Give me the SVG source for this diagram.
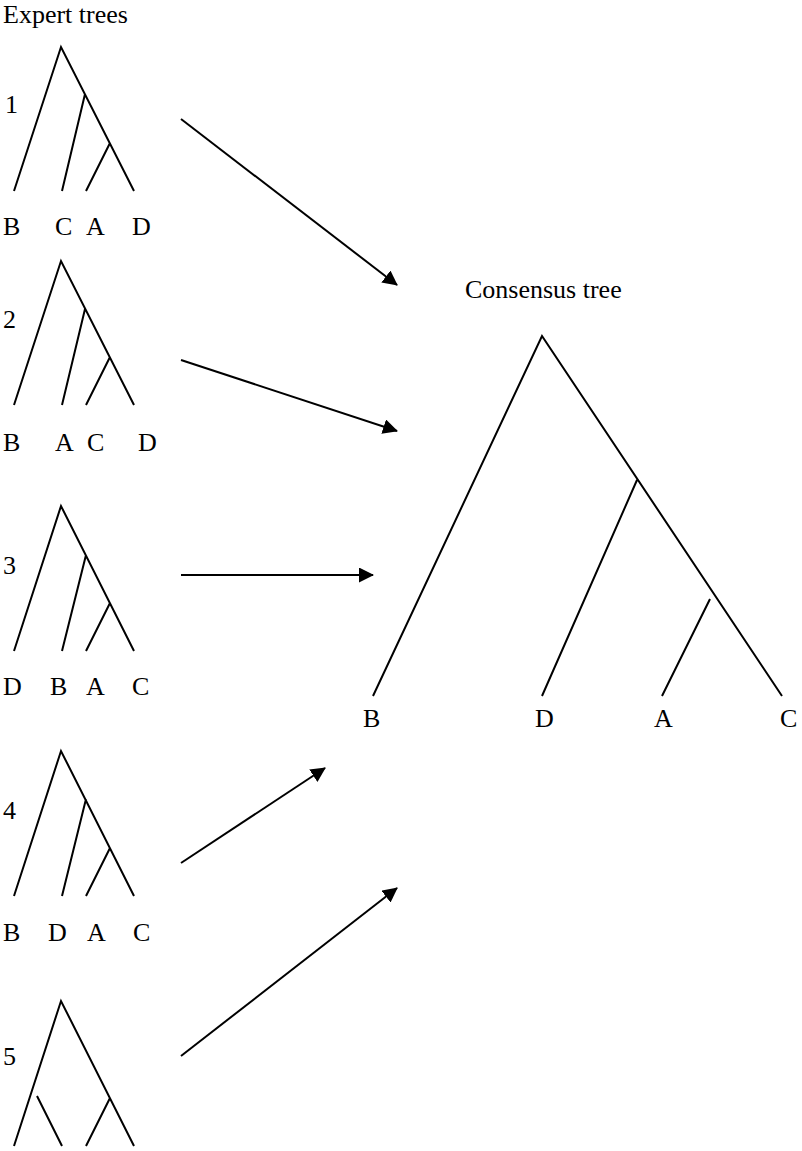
<svg xmlns="http://www.w3.org/2000/svg" width="802" height="1151" viewBox="0 0 802 1151">
<style>
.t{font-family:"Liberation Serif","Times New Roman",serif;font-size:26px;fill:#000}
.b{stroke:#000;stroke-width:2;fill:none}
.a{stroke:#000;stroke-width:2;fill:none;marker-end:url(#ah)}
</style>
<defs>
<marker id="ah" viewBox="0 0 15 15" refX="14" refY="7.5" markerWidth="15" markerHeight="15" markerUnits="userSpaceOnUse" orient="auto">
<path d="M0,0 L15,7.5 L0,15 z" fill="#000"/>
</marker>
</defs>
<rect width="802" height="1151" fill="#fff"/>
<text class="t" x="3" y="23">Expert trees</text>
<g id="tree1">
<path class="b" d="M14,191 L61,47 L134,191 M62,191 L85,94 M86,191 L110,143"/>
<text class="t" x="5" y="113">1</text>
<text class="t" x="3" y="235">B</text>
<text class="t" x="55" y="235">C</text>
<text class="t" x="86" y="235">A</text>
<text class="t" x="132" y="235">D</text>
</g>
<g id="tree2">
<path class="b" d="M14,405 L61,261 L134,405 M62,405 L85,309 M86,405 L110,357"/>
<text class="t" x="3" y="328">2</text>
<text class="t" x="3" y="451">B</text>
<text class="t" x="55" y="451">A</text>
<text class="t" x="87" y="451">C</text>
<text class="t" x="138" y="451">D</text>
</g>
<g id="tree3">
<path class="b" d="M14,651 L61,506 L134,651 M62,651 L86,555 M86,651 L110,603"/>
<text class="t" x="3" y="574">3</text>
<text class="t" x="3" y="695">D</text>
<text class="t" x="50" y="695">B</text>
<text class="t" x="86" y="695">A</text>
<text class="t" x="132" y="695">C</text>
</g>
<g id="tree4">
<path class="b" d="M14,896 L61,751 L134,896 M62,896 L86,799 M86,896 L110,848"/>
<text class="t" x="3" y="819">4</text>
<text class="t" x="3" y="941">B</text>
<text class="t" x="48" y="941">D</text>
<text class="t" x="87" y="941">A</text>
<text class="t" x="133" y="941">C</text>
</g>
<g id="tree5">
<path class="b" d="M14,1146 L61,1001 L134,1146 M37,1096 L62,1146 M86,1146 L110,1098"/>
<text class="t" x="3" y="1065">5</text>
</g>
<g id="consensus">
<text class="t" x="465" y="298">Consensus tree</text>
<path class="b" d="M373,696 L542,336 L782,696 M542,696 L637,480 M662,696 L710,599"/>
<text class="t" x="363" y="727">B</text>
<text class="t" x="535" y="727">D</text>
<text class="t" x="654" y="727">A</text>
<text class="t" x="780" y="727">C</text>
</g>
<g id="connectors">
<line class="a" x1="181" y1="119" x2="397" y2="285"/>
<line class="a" x1="181" y1="360" x2="397" y2="431"/>
<line class="a" x1="181" y1="575" x2="373" y2="575"/>
<line class="a" x1="181" y1="863" x2="325" y2="768"/>
<line class="a" x1="181" y1="1056" x2="397" y2="888"/>
</g>
</svg>
